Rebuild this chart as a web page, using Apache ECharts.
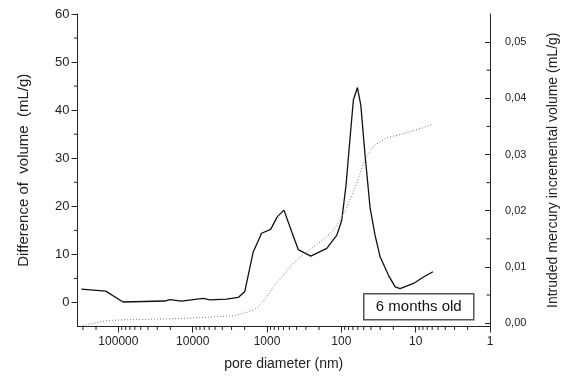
<!DOCTYPE html>
<html>
<head>
<meta charset="utf-8">
<script src="https://cdn.jsdelivr.net/npm/echarts@6/dist/echarts.min.js"></script>
<style>
html,body{margin:0;padding:0;background:#fff;}
#chart{width:568px;height:377px;}
</style>
</head>
<body>
<div id="chart"></div>
<script>
// ---- Data ----
// Solid line: difference of volume (mL/g) vs pore diameter (nm)
const solidDiam = [315000, 148000, 86700, 23800, 20400, 14200, 7240, 5890, 3500, 2440, 1990, 1535, 1183, 894, 729, 592, 466, 380, 258, 157, 115, 98.8, 86.5, 76.4, 68.9, 60.8, 54.8, 48, 41, 35.2, 30.1, 23.3, 18.9, 16.2, 10.7, 7.85, 5.86];
const solidVol  = [2.77, 2.35, 0.1, 0.3, 0.6, 0.27, 0.83, 0.55, 0.7, 1.04, 2.3, 10.5, 14.4, 15.2, 17.8, 19.2, 14.7, 11.0, 9.65, 11.25, 14.0, 17.1, 24.4, 34.2, 42.1, 44.7, 41.1, 30.7, 19.6, 14.0, 9.5, 5.7, 3.25, 2.9, 3.96, 5.3, 6.4];
// Dotted line: intruded mercury incremental volume (mL/g)
const dotDiam = [302000, 250000, 139000, 87500, 20400, 8020, 2880, 1990, 1535, 1314, 1012, 824, 670, 491, 443, 360, 293, 194, 128, 104, 84.6, 65.3, 48, 37, 24.5, 14.6, 8.7, 5.86];
const dotVol  = [-0.0005, -0.0002, 0.00046, 0.00058, 0.00076, 0.00097, 0.00129, 0.0018, 0.0023, 0.0029, 0.0046, 0.0065, 0.0078, 0.0100, 0.0106, 0.0118, 0.0127, 0.0144, 0.0165, 0.0183, 0.0206, 0.0241, 0.0292, 0.0315, 0.033, 0.0337, 0.0346, 0.0354];
// Minor tick values
const leftMinorTicks = [5, 15, 25, 35, 45, 55];
const rightMinorTicks = [0.005, 0.015, 0.025, 0.035, 0.045];
const xMinorTicks = [];
for (let k = 0; k <= 5; k++) {
  for (let m = 2; m <= 9; m++) {
    const v = m * Math.pow(10, k);
    if (v <= 355000) xMinorTicks.push(v);
  }
}
const legendText = '6 months old';

const FONT = 'Liberation Sans, Arial, sans-serif';
const chart = echarts.init(document.getElementById('chart'), null, {renderer: 'canvas'});

function minorRender(kind) {
  return function (params, api) {
    const cs = params.coordSys;
    let shape;
    if (kind === 'x') {
      const x = api.coord([api.value(0), api.value(1)])[0];
      const y = cs.y + cs.height;
      shape = {x1: x, y1: y, x2: x, y2: y + 3.5};
    } else if (kind === 'left') {
      const y = api.coord([api.value(0), api.value(1)])[1];
      shape = {x1: cs.x - 3.5, y1: y, x2: cs.x, y2: y};
    } else {
      const y = api.coord([api.value(0), api.value(1)])[1];
      const xr = cs.x + cs.width;
      shape = {x1: xr - 3.5, y1: y, x2: xr, y2: y};
    }
    return {type: 'line', shape: shape, style: {stroke: '#222', lineWidth: 1}};
  };
}

const option = {
  animation: false,
  backgroundColor: '#fff',
  textStyle: {fontFamily: FONT},
  grid: {left: 77.5, right: 77.5, top: 14, bottom: 50.5, containLabel: false},
  xAxis: {
    type: 'log',
    logBase: 10,
    inverse: true,
    min: 1,
    max: 355000,
    splitLine: {show: false},
    axisLine: {show: true, onZero: false, lineStyle: {color: '#222', width: 1}},
    axisTick: {show: true, length: 6, lineStyle: {color: '#222'}},
    axisLabel: {
      fontSize: 12, color: '#222', fontFamily: FONT, margin: 9,
      showMaxLabel: false,
      formatter: v => String(Math.round(v))
    },
    name: 'pore diameter (nm)',
    nameLocation: 'middle',
    nameGap: 31,
    nameTextStyle: {fontSize: 14, color: '#222', fontFamily: FONT}
  },
  yAxis: [{
    type: 'value',
    min: -5,
    max: 60,
    position: 'left',
    splitLine: {show: false},
    axisLine: {show: true, onZero: false, lineStyle: {color: '#222', width: 1}},
    axisTick: {show: true, length: 6, lineStyle: {color: '#222'}},
    axisLabel: {fontSize: 13, color: '#222', fontFamily: FONT, margin: 8, showMinLabel: false},
    name: 'Difference of  volume  (mL/g)',
    nameLocation: 'middle',
    nameGap: 46,
    nameTextStyle: {fontSize: 15, color: '#222', fontFamily: FONT}
  }, {
    type: 'value',
    min: -0.0006,
    max: 0.055,
    position: 'right',
    splitLine: {show: false},
    axisLine: {show: true, onZero: false, lineStyle: {color: '#222', width: 1}},
    axisTick: {show: true, inside: true, length: 5, lineStyle: {color: '#222'}},
    axisLabel: {
      fontSize: 11, color: '#222', fontFamily: FONT, margin: 15,
      showMinLabel: false, showMaxLabel: false,
      formatter: v => v.toFixed(2).replace('.', ',')
    },
    name: 'Intruded mercury incremental volume (mL/g)',
    nameLocation: 'middle',
    nameRotate: 90,
    nameGap: 56,
    nameTextStyle: {fontSize: 14, color: '#222', fontFamily: FONT}
  }],
  series: [{
    type: 'line',
    name: 'difference',
    yAxisIndex: 0,
    data: solidDiam.map((d, i) => [d, solidVol[i]]),
    showSymbol: false,
    symbol: 'none',
    smooth: false,
    lineStyle: {color: '#111', width: 1.3}
  }, {
    type: 'line',
    name: 'intruded',
    yAxisIndex: 1,
    data: dotDiam.map((d, i) => [d, dotVol[i]]),
    showSymbol: false,
    symbol: 'none',
    smooth: false,
    lineStyle: {color: '#777', width: 1, type: [1, 2]}
  }, {
    type: 'custom',
    yAxisIndex: 0,
    silent: true,
    clip: false,
    data: xMinorTicks.map(v => [v, -5]),
    renderItem: minorRender('x')
  }, {
    type: 'custom',
    yAxisIndex: 0,
    silent: true,
    clip: false,
    data: leftMinorTicks.map(v => [1, v]),
    renderItem: minorRender('left')
  }, {
    type: 'custom',
    yAxisIndex: 1,
    silent: true,
    clip: false,
    data: rightMinorTicks.map(v => [1, v]),
    renderItem: minorRender('right')
  }],
  graphic: [{
    type: 'group',
    left: 363,
    top: 293,
    children: [{
      type: 'rect',
      shape: {x: 0, y: 0, width: 110, height: 26},
      style: {fill: '#fff', stroke: '#555', lineWidth: 1.5}
    }, {
      type: 'text',
      x: 55, y: 13,
      style: {
        text: legendText, fontSize: 15, fontFamily: FONT, fill: '#111',
        align: 'center', verticalAlign: 'middle'
      }
    }]
  }]
};
chart.setOption(option);
</script>
</body>
</html>
